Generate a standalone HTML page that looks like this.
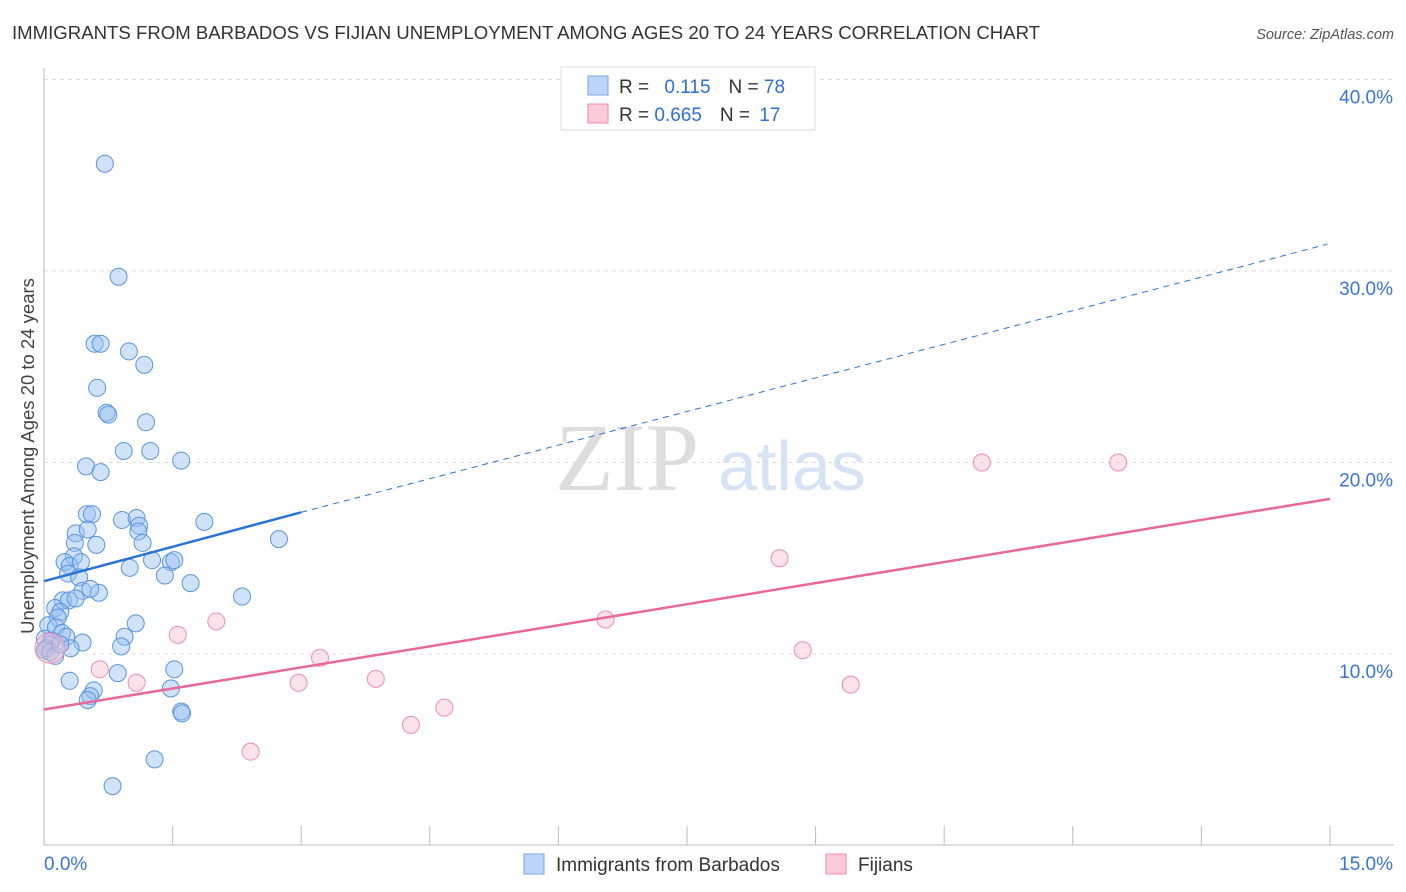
<!DOCTYPE html>
<html><head><meta charset="utf-8">
<style>
body{margin:0;background:#fff;font-family:"Liberation Sans",sans-serif;}
#wrap{position:relative;width:1406px;height:892px;overflow:hidden}
</style></head>
<body><div id="wrap">
<svg id="svg" width="1406" height="892" xmlns="http://www.w3.org/2000/svg">
<text x="12" y="39" font-size="18.6" fill="#333">IMMIGRANTS FROM BARBADOS VS FIJIAN UNEMPLOYMENT AMONG AGES 20 TO 24 YEARS CORRELATION CHART</text>
<text x="1394" y="39" font-size="14.5" fill="#555" font-style="italic" text-anchor="end">Source: ZipAtlas.com</text>
<text x="34" y="456" font-size="18.5" fill="#444" text-anchor="middle" transform="rotate(-90 34 456)">Unemployment Among Ages 20 to 24 years</text>
<text x="555" y="490" font-size="96" fill="#ddd" font-family="Liberation Serif,serif">ZIP</text>
<text x="718" y="490" font-size="70" fill="#d6e3f5">atlas</text>
<g id="grid"></g><g id="axes"></g><g id="pts"></g><g id="trend"></g>
<g>
<rect x="561" y="67" width="254" height="63" fill="#fff" stroke="#ddd"/>
<rect x="588" y="76" width="20" height="19" fill="#bcd4f6" stroke="#7aa6e6"/>
<rect x="588" y="104" width="20" height="19" fill="#fbcad8" stroke="#f08aaa"/>
<text x="619" y="93" font-size="19" fill="#333">R = <tspan fill="#2f6fd8" dx="10">0.115</tspan><tspan dx="18">N = </tspan><tspan fill="#2f6fd8">78</tspan></text>
<text x="619" y="121" font-size="19" fill="#333">R = <tspan fill="#2f6fd8">0.665</tspan><tspan dx="18">N = </tspan><tspan fill="#2f6fd8" dx="4">17</tspan></text>
</g>
<g>
<rect x="524" y="854" width="20" height="20" fill="#bcd4f6" stroke="#7aa6e6"/>
<text x="556" y="871" font-size="19" fill="#333">Immigrants from Barbados</text>
<rect x="826" y="854" width="20" height="20" fill="#fbcad8" stroke="#f08aaa"/>
<text x="858" y="871" font-size="19" fill="#333">Fijians</text>
</g>
</svg>
<script>
const yTicks=[10,20,30,40];
const xTickLabels=["0.0%","15.0%"];
const blueX=[0.71,0.87,0.59,0.66,0.99,1.17,0.62,0.73,0.75,1.19,0.93,1.24,1.60,0.49,0.66,0.50,0.56,0.91,1.08,1.11,1.87,0.37,1.10,0.51,1.15,0.36,0.61,2.74,0.35,0.24,0.30,0.43,1.26,1.48,1.52,1.00,0.28,0.41,1.41,1.71,0.45,0.64,0.54,0.22,0.29,0.37,2.31,0.13,0.19,0.16,1.07,0.05,0.14,0.21,0.26,0.94,0.01,0.09,0.45,0.07,0.03,0.31,0.90,1.52,0.30,0.86,1.48,0.58,0.54,0.51,1.60,1.61,1.29,0.80,0.01,0.07,0.13,0.19];
const blueY=[35.6,29.7,26.2,26.2,25.8,25.1,23.9,22.6,22.5,22.1,20.6,20.6,20.1,19.8,19.5,17.3,17.3,17.0,17.1,16.7,16.9,16.3,16.4,16.5,15.8,15.8,15.7,16.0,15.1,14.8,14.6,14.8,14.9,14.8,14.9,14.5,14.2,14.0,14.1,13.7,13.3,13.2,13.4,12.8,12.8,12.9,13.0,12.4,12.2,11.9,11.6,11.5,11.4,11.1,10.9,10.9,10.8,10.7,10.6,10.5,10.3,10.3,10.4,9.2,8.6,9.0,8.2,8.1,7.8,7.6,7.0,6.9,4.5,3.1,10.2,10.1,9.9,10.5];
const pinkX=[0.07,0.65,1.08,1.56,2.01,2.41,2.97,3.22,3.87,4.28,4.67,6.55,8.58,8.85,9.41,10.94,12.53];
const pinkY=[10.3,9.2,8.5,11.0,11.7,4.9,8.5,9.8,8.7,6.3,7.2,11.8,15.0,10.2,8.4,20.0,20.0];
const blueTrend=[13.8,17.4,31.4]; // y at x=0, x=3, x=15
const pinkTrend=[7.1,18.1]; // y at x=0, x=15
const X=v=>44+v*85.73, Y=v=>845.5-v*19.15;
const NS="http://www.w3.org/2000/svg";
function mk(t,a,p){const e=document.createElementNS(NS,t);for(const k in a)e.setAttribute(k,a[k]);document.getElementById(p).appendChild(e);return e;}
yTicks.forEach(v=>{
 const l=mk('line',{x1:44,x2:1394,y1:Y(v),y2:Y(v),stroke:'#ddd','stroke-dasharray':'4,4'},'grid');
 
 
 const t=mk('text',{x:1393,y:Y(v)+24,'font-size':19,fill:'#3b73d6','text-anchor':'end'},'grid');
 t.textContent=v.toFixed(1)+'%';
 
 
});
const ax=mk('line',{x1:44,x2:1394,y1:845,y2:845,stroke:'#bbb'},'axes');


const ay=mk('line',{x1:44,x2:44,y1:68,y2:845,stroke:'#bbb'},'axes');


for(let i=0;i<=10;i++){const tk=mk('line',{x1:X(i*1.5),x2:X(i*1.5),y1:826,y2:845,stroke:'#bbb'},'axes');
 
 }
const t0=mk('text',{x:44,y:870,'font-size':19,fill:'#3b73d6'},'axes');t0.textContent=xTickLabels[0];


const t1=mk('text',{x:1393,y:870,'font-size':19,fill:'#3b73d6','text-anchor':'end'},'axes');t1.textContent=xTickLabels[1];


blueX.forEach((v,i)=>{const c=mk('circle',{cx:X(v),cy:Y(blueY[i]),r:8.5,fill:'rgba(150,190,240,0.45)',stroke:'#5b95e0','stroke-width':1},'pts');
 
 });
pinkX.forEach((v,i)=>{const c=mk('circle',{cx:X(v),cy:Y(pinkY[i]),r:i==0?15:8.5,fill:'rgba(248,190,210,0.45)',stroke:'#ee8fae','stroke-width':1},'pts');
 
 });
const b1=mk('line',{x1:X(0),y1:Y(blueTrend[0]),x2:X(3),y2:Y(blueTrend[1]),stroke:'#2a72d8','stroke-width':2.5},'trend');


const b2=mk('line',{x1:X(3),y1:Y(blueTrend[1]),x2:X(14.97),y2:Y(blueTrend[2]),stroke:'#2a72d8','stroke-width':1,'stroke-dasharray':'6,5'},'trend');


const p1=mk('line',{x1:X(0),y1:Y(pinkTrend[0]),x2:X(15),y2:Y(pinkTrend[1]),stroke:'#e8689a','stroke-width':2.5},'trend');


</script>
</div></body></html>
